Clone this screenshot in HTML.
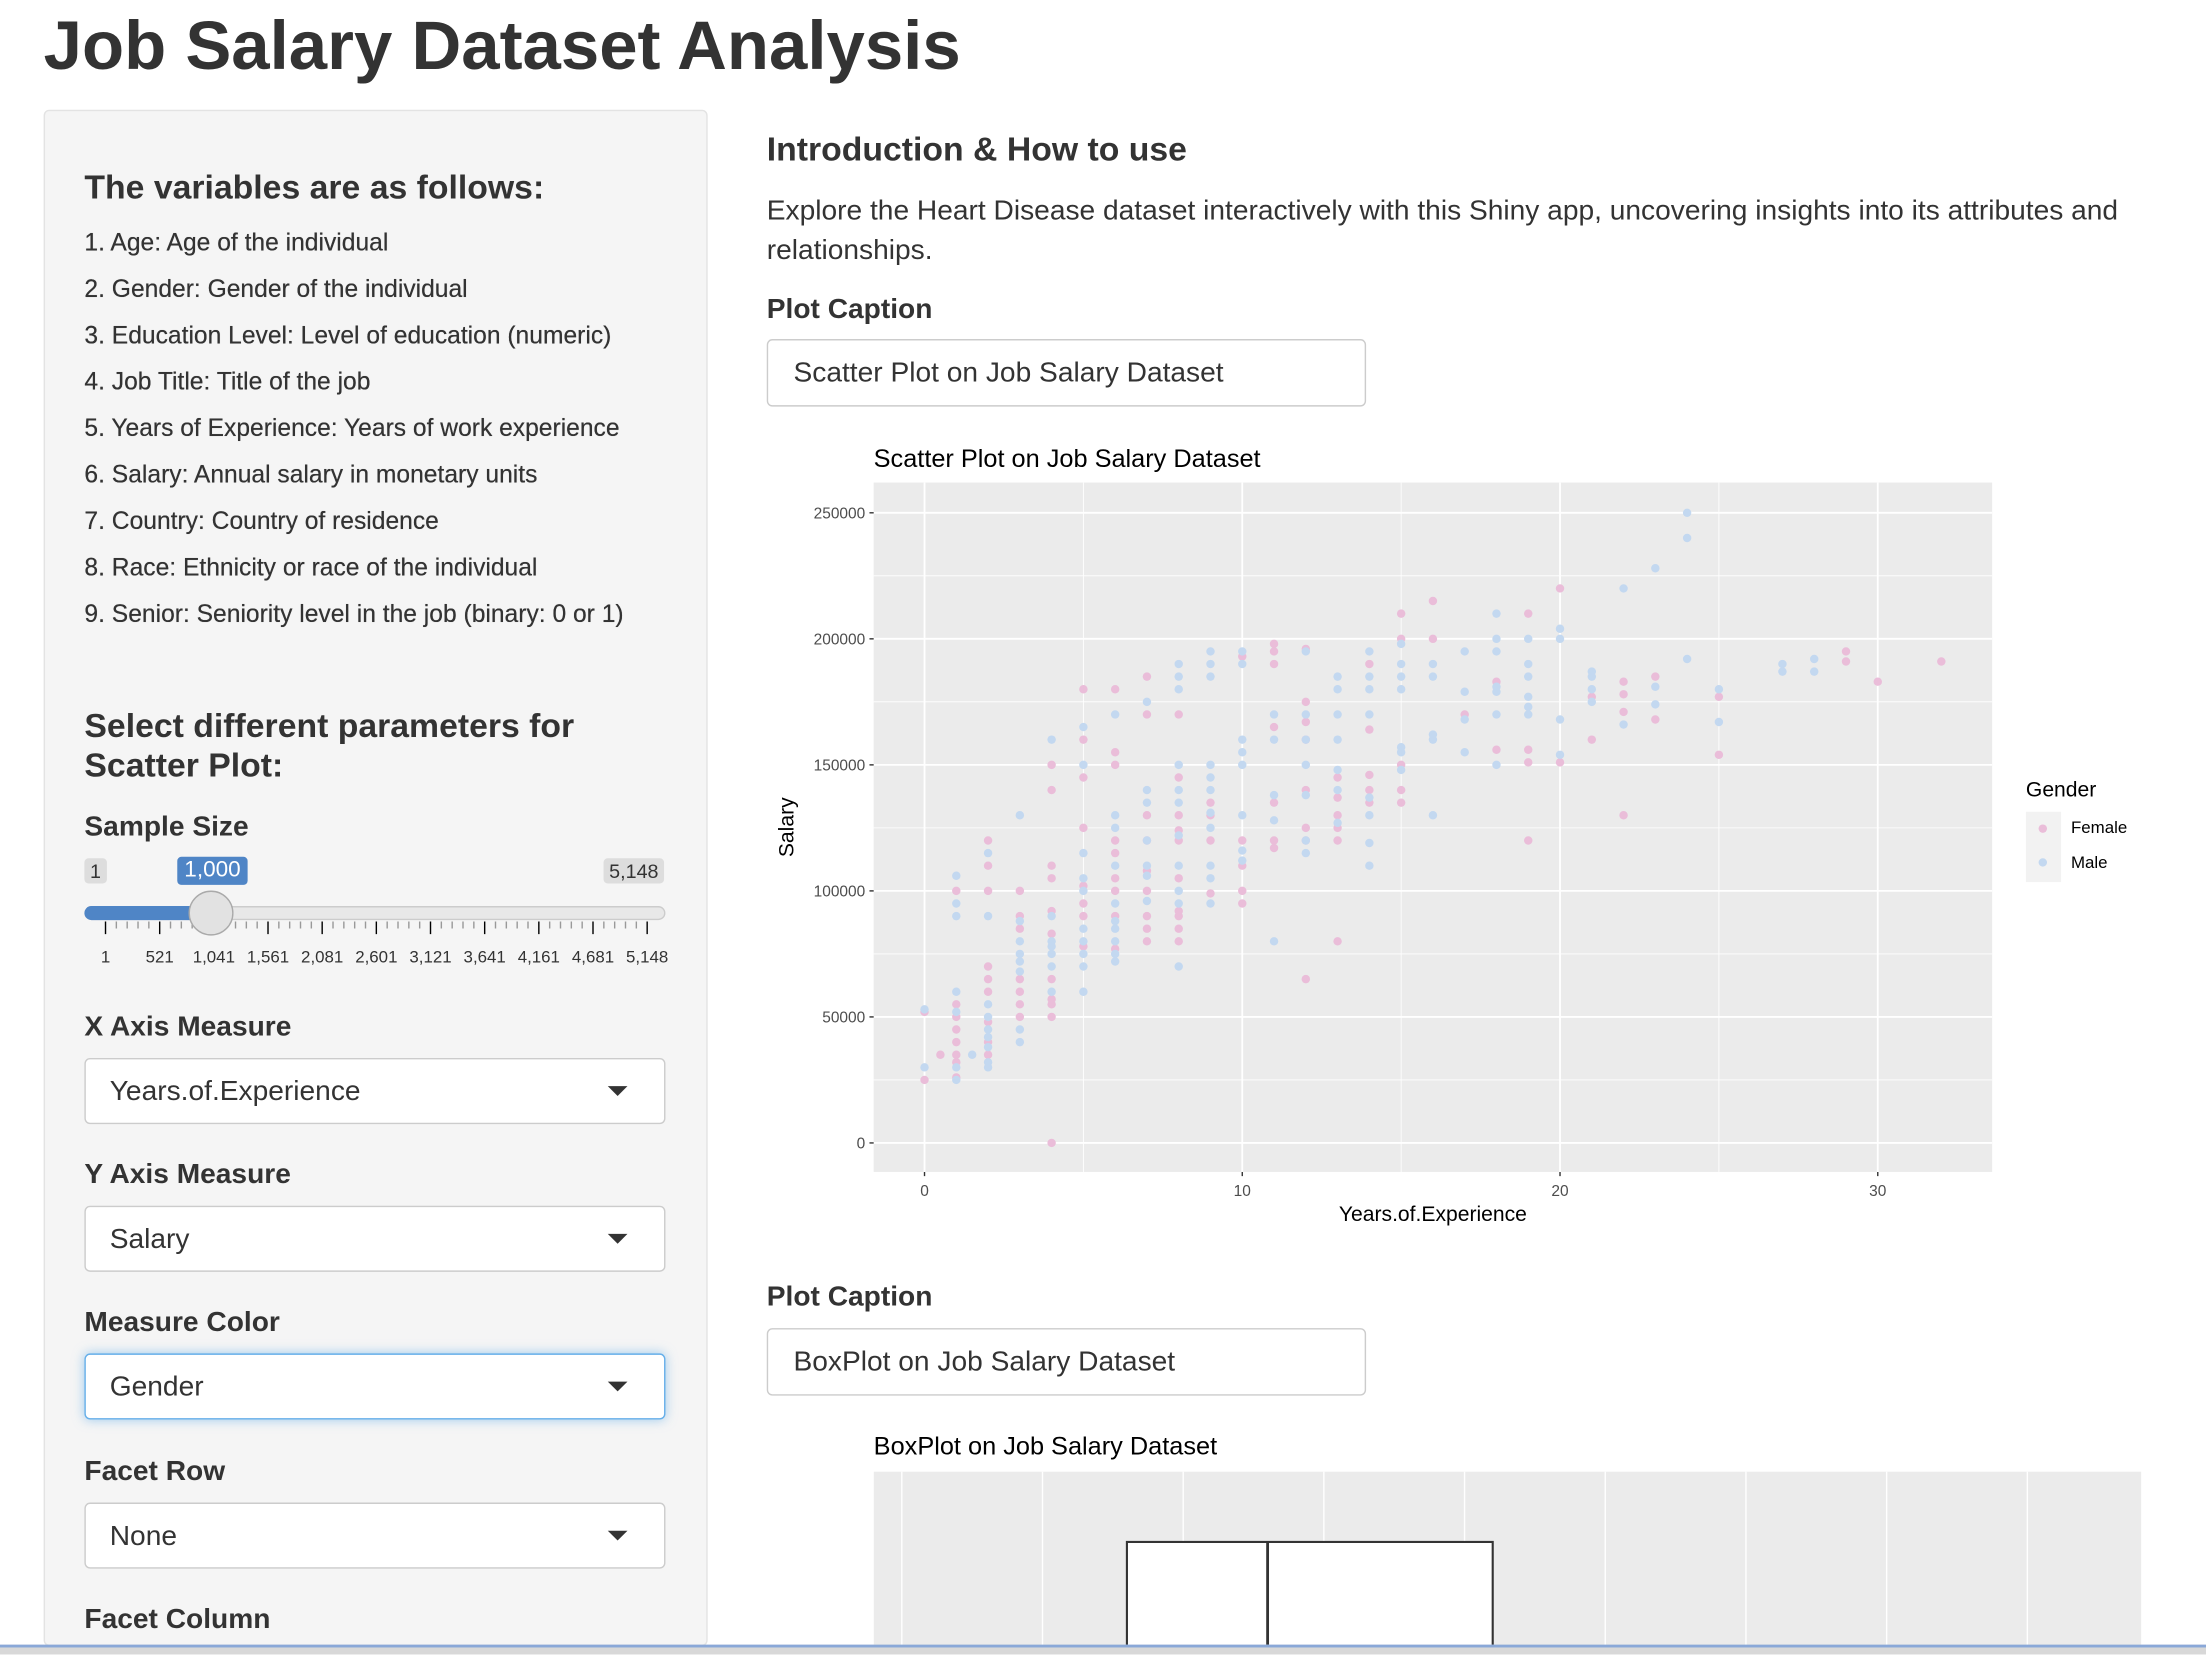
<!DOCTYPE html>
<html><head><meta charset="utf-8"><style>
html,body{margin:0;padding:0;width:2206px;height:1654px;overflow:hidden;background:#fff}
#wrap{position:absolute;left:0;top:0;width:1568px;height:1176px;transform:scale(1.40689);transform-origin:0 0;font-family:"Liberation Sans",sans-serif;color:#333;overflow:hidden}
.a{position:absolute;white-space:nowrap}
.lbl{font-weight:bold;font-size:20px}
.sel{position:absolute;left:60px;width:413px;height:47px;background:#fff;border:1px solid #ccc;border-radius:4px;box-sizing:border-box}
.sel span{position:absolute;left:17px;top:12px;font-size:20px}
.sel i{position:absolute;right:26px;top:19px;width:0;height:0;border-left:7px solid transparent;border-right:7px solid transparent;border-top:7px solid #333}
.li{font-size:17.5px;left:60px;text-shadow:0 0 0.3px #333}
</style></head><body>
<div id="wrap">
<div class="a" style="left:31px;top:5px;font-size:49px;font-weight:bold">Job Salary Dataset Analysis</div>

<div class="a" style="left:31px;top:78px;width:470px;height:1090px;background:#f5f5f5;border:1px solid #e3e3e3;border-radius:4px"></div>
<div class="a" style="left:60px;top:120px;font-size:24px;font-weight:bold">The variables are as follows:</div>
<div class="a li" style="top:162px">1. Age: Age of the individual</div>
<div class="a li" style="top:195px">2. Gender: Gender of the individual</div>
<div class="a li" style="top:228px">3. Education Level: Level of education (numeric)</div>
<div class="a li" style="top:261px">4. Job Title: Title of the job</div>
<div class="a li" style="top:294px">5. Years of Experience: Years of work experience</div>
<div class="a li" style="top:327px">6. Salary: Annual salary in monetary units</div>
<div class="a li" style="top:360px">7. Country: Country of residence</div>
<div class="a li" style="top:393px">8. Race: Ethnicity or race of the individual</div>
<div class="a li" style="top:426px">9. Senior: Seniority level in the job (binary: 0 or 1)</div>
<div class="a" style="left:60px;top:503px;font-size:24px;line-height:28px;font-weight:bold">Select different parameters for<br>Scatter Plot:</div>
<div class="a lbl" style="left:60px;top:577px">Sample Size</div>
<div class="a" style="left:60px;top:610px;font-size:14px;background:#ddd;border-radius:3px;padding:1px 4px">1</div>
<div class="a" style="left:126px;top:609px;font-size:16px;background:#4f85c6;color:#fff;border-radius:3px;padding:1px 5px">1,000</div>
<div class="a" style="left:429px;top:610px;font-size:14px;background:#ddd;border-radius:3px;padding:1px 4px">5,148</div>
<div class="a" style="left:60px;top:644px;width:413px;height:10px;background:#e8e8e8;border:1px solid #ccc;border-radius:6px;box-sizing:border-box"></div>
<div class="a" style="left:60px;top:644px;width:92px;height:10px;background:#4f85c6;border-radius:6px 0 0 6px"></div>
<svg class="a" style="left:60px;top:655px" width="420" height="40" id="ticks"></svg>
<div class="a" style="left:134px;top:633px;width:30px;height:30px;border-radius:50%;background:#e2e2e2;border:1px solid #aaa"></div>

<div class="a lbl" style="left:60px;top:719px">X Axis Measure</div>
<div class="sel" style="top:752px"><span>Years.of.Experience</span><i></i></div>
<div class="a lbl" style="left:60px;top:824px">Y Axis Measure</div>
<div class="sel" style="top:857px"><span>Salary</span><i></i></div>
<div class="a lbl" style="left:60px;top:929px">Measure Color</div>
<div class="sel" style="top:962px;border-color:#66afe9;box-shadow:0 0 8px rgba(102,175,233,.6)"><span>Gender</span><i></i></div>
<div class="a lbl" style="left:60px;top:1035px">Facet Row</div>
<div class="sel" style="top:1068px"><span>None</span><i></i></div>
<div class="a lbl" style="left:60px;top:1140px">Facet Column</div>

<div class="a" style="left:545px;top:93px;font-size:24px;font-weight:bold">Introduction &amp; How to use</div>
<div class="a" style="left:545px;top:136px;font-size:20px;line-height:28px">Explore the Heart Disease dataset interactively with this Shiny app, uncovering insights into its attributes and<br>relationships.</div>
<div class="a lbl" style="left:545px;top:209px">Plot Caption</div>
<div class="a" style="left:545px;top:241px;width:426px;height:48px;border:1px solid #ccc;border-radius:4px;box-sizing:border-box;font-size:20px;padding:12px 18px">Scatter Plot on Job Salary Dataset</div>

<svg class="a" id="scatter" style="left:540px;top:300px" width="1028" height="580" font-family="Liberation Sans, sans-serif"></svg>

<div class="a lbl" style="left:545px;top:911px">Plot Caption</div>
<div class="a" style="left:545px;top:944px;width:426px;height:48px;border:1px solid #ccc;border-radius:4px;box-sizing:border-box;font-size:20px;padding:12px 18px">BoxPlot on Job Salary Dataset</div>
<div class="a" style="left:621px;top:1018px;font-size:18px;color:#000">BoxPlot on Job Salary Dataset</div>
<svg class="a" style="left:621px;top:1046px" width="901" height="124">
<rect width="901" height="124" fill="#ebebeb"/>
<g stroke="#fff" stroke-width="1"><line x1="20" x2="20" y1="0" y2="124"/><line x1="120" x2="120" y1="0" y2="124"/><line x1="220" x2="220" y1="0" y2="124"/><line x1="320" x2="320" y1="0" y2="124"/><line x1="420" x2="420" y1="0" y2="124"/><line x1="520" x2="520" y1="0" y2="124"/><line x1="620" x2="620" y1="0" y2="124"/><line x1="720" x2="720" y1="0" y2="124"/><line x1="820" x2="820" y1="0" y2="124"/></g>
<rect x="180" y="50" width="260" height="90" fill="#fff" stroke="#333" stroke-width="1.5"/>
<line x1="280" x2="280" y1="50" y2="124" stroke="#333" stroke-width="2"/>
</svg>
<div class="a" style="left:0;top:1169px;width:1568px;height:7px;background:#d8d8d8;border-top:2px solid #8aa8d8;box-sizing:border-box"></div>
</div>
<script>
const tickLabels=["1","521","1,041","1,561","2,081","2,601","3,121","3,641","4,161","4,681","5,148"];
const tk=document.getElementById('ticks');
const NS="http://www.w3.org/2000/svg";
function mk(p,t,at){const e=document.createElementNS(NS,t);for(const k in at)e.setAttribute(k,at[k]);p.appendChild(e);return e;}
for(let i=0;i<=50;i++){const x=15+i*7.7;const maj=i%5==0;
 const l=mk(tk,'line',{x1:x,x2:x,y1:0,y2:maj?9:5,stroke:maj?'#000':'#999','stroke-width':1});
 
 }
tickLabels.forEach((s,i)=>{const x=i==10?400:15+i*38.5;const t=mk(tk,'text',{x:x,y:29,'font-size':12,'text-anchor':'middle',fill:'#333','font-family':'Liberation Sans, sans-serif'});t.textContent=s;
 
 });
</script>
<script>
const femaleX=[0,0,0.5,1,1,1,1,1,1,1,1,2,2,2,2,2,2,2,2,2,3,3,3,3,3,3,3,4,4,4,4,4,4,4,4,4,4,4,5,5,5,5,5,5,5,5,6,6,6,6,6,6,6,6,6,7,7,7,7,7,7,7,7,7,8,8,8,8,8,8,8,8,8,8,9,9,9,9,10,10,10,10,10,11,11,11,11,11,11,11,12,12,12,12,12,12,12,12,13,13,13,13,13,13,14,14,14,14,14,15,15,15,15,15,16,16,17,18,18,19,19,19,19,20,20,21,21,22,22,22,22,23,23,25,25,29,29,30,32];
const femaleY=[52,25,35,100,55,50,45,40,35,32,26,120,110,100,70,65,60,48,40,35,100,90,85,65,60,55,50,150,140,110,105,92,83,65,57,55,50,0,180,160,145,125,102,95,90,78,180,155,150,120,115,105,100,90,77,185,170,130,120,108,100,90,85,80,170,145,130,124,120,105,92,90,85,80,135,130,120,99,193,120,110,100,95,198,195,190,165,135,120,117,196,175,167,160,140,125,120,65,145,137,130,125,120,80,190,164,146,140,135,210,200,150,140,135,215,200,170,183,156,210,156,151,120,220,151,177,160,183,178,171,130,185,168,177,154,195,191,183,191];
const maleX=[0,0,1,1,1,1,1,1,1,1.5,2,2,2,2,2,2,2,2,2,3,3,3,3,3,3,3,3,4,4,4,4,4,4,4,5,5,5,5,5,5,5,5,5,5,6,6,6,6,6,6,6,6,6,6,7,7,7,7,7,7,7,8,8,8,8,8,8,8,8,8,8,8,9,9,9,9,9,9,9,9,9,9,9,10,10,10,10,10,10,10,10,11,11,11,11,11,12,12,12,12,12,12,12,13,13,13,13,13,13,13,14,14,14,14,14,14,14,14,15,15,15,15,15,15,15,16,16,16,16,16,17,17,17,17,18,18,18,18,18,18,18,19,19,19,19,19,19,20,20,20,20,21,21,21,21,22,22,23,23,23,24,24,24,25,25,27,27,28,28];
const maleY=[30,53,106,95,90,60,52,30,25,35,115,90,55,50,45,42,38,32,30,130,88,80,75,72,68,45,40,160,90,80,78,75,70,60,165,150,115,105,100,85,80,75,70,60,170,130,125,110,95,88,85,80,75,72,175,140,135,120,110,106,96,190,185,180,150,140,135,122,110,100,95,70,195,190,185,150,145,140,131,125,110,105,95,195,190,160,155,150,130,116,112,170,160,138,128,80,195,170,160,150,138,120,115,185,180,170,160,148,140,127,195,185,180,170,137,130,119,110,198,190,185,180,157,155,148,190,185,162,160,130,195,179,168,155,210,200,195,181,179,170,150,200,190,185,177,173,170,204,200,168,154,187,185,180,175,220,166,228,181,174,250,240,192,180,167,190,187,192,187];
const xTicks=[0,10,20,30];
const yTicks=[0,50000,100000,150000,200000,250000];
const svg=document.getElementById('scatter');
const NS2="http://www.w3.org/2000/svg";
function el(t,at){const e=document.createElementNS(NS2,t);for(const k in at)e.setAttribute(k,at[k]);svg.appendChild(e);return e;}
const P={l:81,t:43,w:795,h:490};
const xMin=-1.6,xMax=33.6,yMin=-11500,yMax=262000;
const xs=v=>P.l+(v-xMin)/(xMax-xMin)*P.w;
const ys=v=>P.t+P.h-(v-yMin)/(yMax-yMin)*P.h;
let e=el('text',{x:81,y:32,'font-size':18,fill:'#000'});e.textContent='Scatter Plot on Job Salary Dataset';


e=el('rect',{x:P.l,y:P.t,width:P.w,height:P.h,fill:'#ebebeb'});


for(let i=0;i<yTicks.length-1;i++){const v=(yTicks[i]+yTicks[i+1])/2;el('line',{x1:P.l,x2:P.l+P.w,y1:ys(v),y2:ys(v),stroke:'#fff','stroke-width':0.6});}
for(let i=0;i<xTicks.length;i++){const v=xTicks[i]+5;if(xs(v)<P.l+P.w)el('line',{x1:xs(v),x2:xs(v),y1:P.t,y2:P.t+P.h,stroke:'#fff','stroke-width':0.6});}
yTicks.forEach(v=>{const y=ys(v);el('line',{x1:P.l,x2:P.l+P.w,y1:y,y2:y,stroke:'#fff','stroke-width':1.3});
 el('line',{x1:P.l-3,x2:P.l,y1:y,y2:y,stroke:'#333'});
 const t=el('text',{x:P.l-6,y:y+4,'font-size':11,'text-anchor':'end',fill:'#4d4d4d'});t.textContent=v;
 
 });
xTicks.forEach(v=>{const x=xs(v);el('line',{x1:x,x2:x,y1:P.t,y2:P.t+P.h,stroke:'#fff','stroke-width':1.3});
 el('line',{x1:x,x2:x,y1:P.t+P.h,y2:P.t+P.h+3,stroke:'#333'});
 const t=el('text',{x:x,y:P.t+P.h+17,'font-size':11,'text-anchor':'middle',fill:'#4d4d4d'});t.textContent=v;
 
 });
function pts(X,Y,c,n){X.forEach((x,i)=>{const p=el('circle',{cx:xs(x),cy:ys(Y[i]*1000),r:3,fill:c});
 
 });}
pts(femaleX,femaleY,'#eabdd9','point-female');
pts(maleX,maleY,'#c3d8f0','point-male');
e=el('text',{x:P.l+P.w/2,y:568,'font-size':15,'text-anchor':'middle',fill:'#000'});e.textContent='Years.of.Experience';


e=el('text',{x:0,y:0,'font-size':15,'text-anchor':'middle',fill:'#000',transform:'translate(24,288) rotate(-90)'});e.textContent='Salary';


e=el('text',{x:900,y:266,'font-size':15,fill:'#000'});e.textContent='Gender';


el('rect',{x:900,y:277,width:25,height:50,fill:'#f2f2f2'});
el('circle',{cx:912,cy:289,r:3,fill:'#eabdd9'});
el('circle',{cx:912,cy:313,r:3,fill:'#c3d8f0'});
e=el('text',{x:932,y:292,'font-size':12,fill:'#000'});e.textContent='Female';


e=el('text',{x:932,y:317,'font-size':12,fill:'#000'});e.textContent='Male';


</script>
</body></html>
